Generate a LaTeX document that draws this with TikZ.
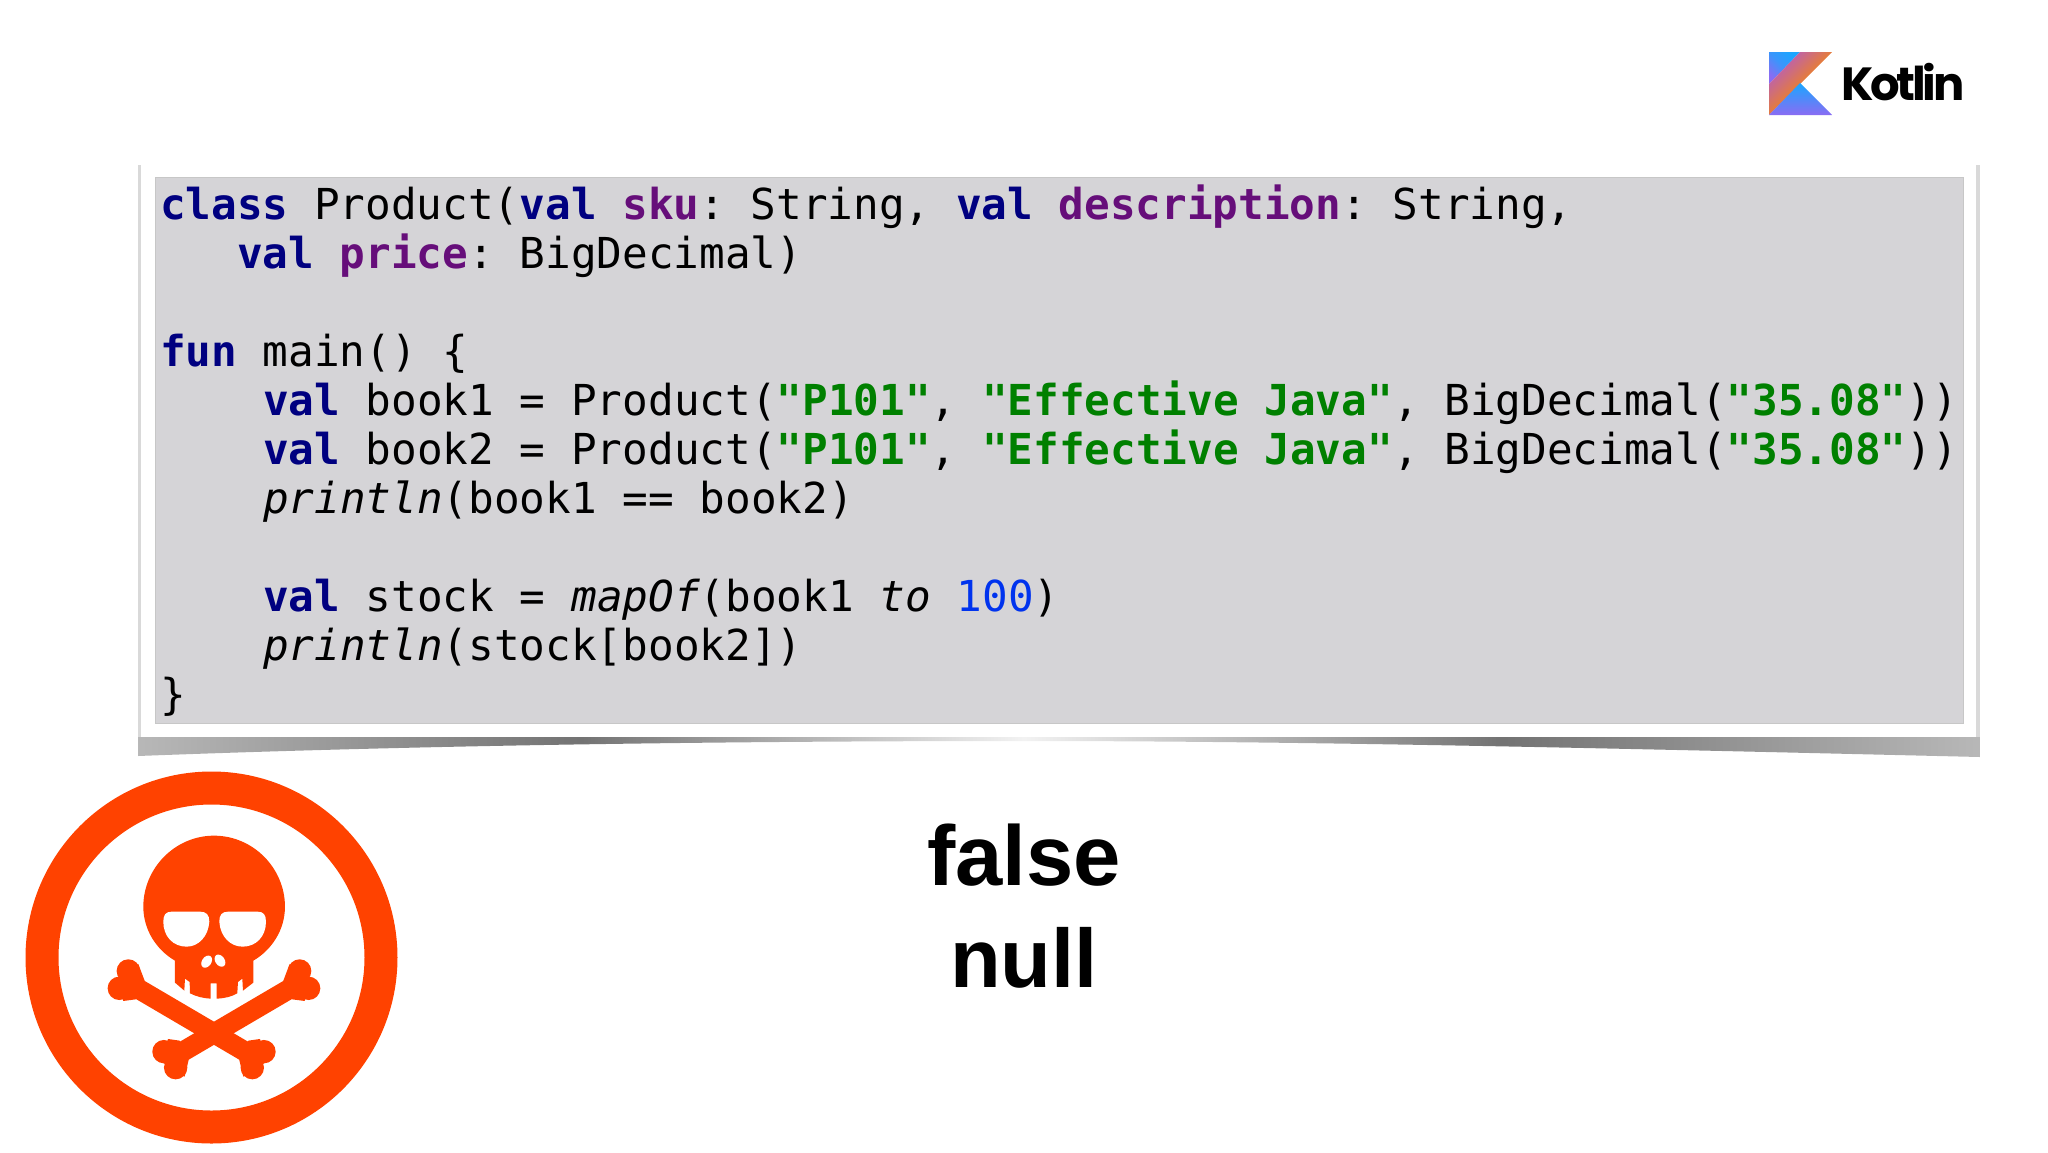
\documentclass[tikz,border=0pt]{standalone}
\usepackage{fontspec}
\setmainfont{Liberation Sans}
\setmonofont{DejaVu Sans Mono}
\newfontfamily\logofont{Poppins}[LetterSpace=-7.0]
\usetikzlibrary{positioning}
\definecolor{kwblue}{HTML}{000080}
\definecolor{fieldpurple}{HTML}{660E7A}
\definecolor{strgreen}{HTML}{008000}
\definecolor{numblue}{HTML}{0033EE}
\definecolor{panelgray}{HTML}{D5D4D7}
\definecolor{skullred}{HTML}{FF4200}
\definecolor{logoblue}{HTML}{1AA6FF}
\definecolor{logoviolet}{HTML}{8A6CF3}
\definecolor{logoorange}{HTML}{FA8A00}
\definecolor{logopink}{HTML}{B45CC4}
\newcommand{\kwd}[1]{\textcolor{kwblue}{\bfseries #1}}
\newcommand{\fld}[1]{\textcolor{fieldpurple}{\bfseries #1}}
\newcommand{\strg}[1]{\textcolor{strgreen}{\bfseries #1}}
\newcommand{\num}[1]{\textcolor{numblue}{#1}}
\tikzset{
		codeline/.style={anchor=base west,inner sep=0pt,font=\fontsize{42.65}{49}\ttfamily},
		answer/.style={anchor=base,inner sep=0pt,font=\fontsize{85}{90}\selectfont\bfseries},
		bone/.style={line width=20pt,draw=skullred}
	}

\begin{document}
\begin{tikzpicture}[x=1pt,y=-1pt]
				\useasboundingbox (0,0) rectangle (2048,1152);

				\fill[gray!30] (138,165) rectangle (1980,738);
				\shade[left color=black!28,right color=black!5,middle color=black!55]
					(138,737) -- (1024,737) -- (1024,741) .. controls (700,741) and (400,746) .. (138,756) -- cycle;
				\shade[left color=black!5,right color=black!28,middle color=black!55]
					(1024,737) -- (1980,737) -- (1980,757) .. controls (1600,748) and (1300,741) .. (1024,741) -- cycle;
				\fill[white] (141,163) rectangle (1976,737);
				\fill[panelgray,draw=black!22] (155,177) rectangle (1963,723);

				\node[codeline] (l1) at (160,219) {\kwd{class} Product(\kwd{val} \fld{sku}: String, \kwd{val} \fld{description}: String,};
				\node[codeline] (l2) at (237,268) {\kwd{val} \fld{price}: BigDecimal)};
				\node[codeline] (l3) at (160,366) {\kwd{fun} main() \{};
				\node[codeline] (l4) at (263,415) {\kwd{val} book1 = Product(\strg{"P101"}, \strg{"Effective Java"}, BigDecimal(\strg{"35.08"}))};
				\node[codeline] (l5) at (263,464) {\kwd{val} book2 = Product(\strg{"P101"}, \strg{"Effective Java"}, BigDecimal(\strg{"35.08"}))};
				\node[codeline] (l6) at (263,513) {\textit{println}(book1 == book2)};
				\node[codeline] (l7) at (263,611) {\kwd{val} stock = \textit{mapOf}(book1 \textit{to} \num{100})};
				\node[codeline] (l8) at (263,660) {\textit{println}(stock[book2])};
				\node[codeline] (l9) at (160,709) {\}};

				\node[answer] (false) at (1024,885) {false};
				\node[answer,font=\fontsize{83}{90}\selectfont\bfseries] (null) at (1024,987) {null};

				\shade[left color=logoblue,right color=logoviolet,middle color=logoblue!70!logoviolet,shading angle=-45]
					(1769,52) -- (1800,52) -- (1769,84) -- cycle;
				\shade[left color=logoorange,right color=logopink,middle color=logoorange!70!logopink,shading angle=225]
					(1800,52) -- (1832,52) -- (1769,115) -- (1769,84) -- cycle;
				\shade[left color=logoblue,right color=logoviolet,shading angle=0]
					(1769,115) -- (1800,83) -- (1832,115) -- cycle;
				\node[anchor=base west,inner sep=0pt,font=\fontsize{46.5}{50}\logofont\bfseries] (logo) at (1841,100) {Kotlin};

				\fill[skullred,even odd rule] (211.5,957.5) circle[radius=186] (211.5,957.5) circle[radius=153];
				\begin{scope}[shift={(0,740)},x=0.3333pt,y=-0.3333pt]
					\fill[skullred] (642,287) .. controls (525,287) and (430,385) .. (430,500)
						.. controls (430,570) and (470,630) .. (525,662) -- (525,728) -- (553,752) -- (555,716)
						-- (569,726) -- (570,760) .. controls (590,770) and (610,775) .. (632,776) -- (632,730) -- (650,730) -- (650,776)
						.. controls (675,775) and (695,770) .. (712,760) -- (714,726) -- (727,716) -- (729,752) -- (760,728) -- (760,662)
						.. controls (815,630) and (855,570) .. (855,500) .. controls (855,385) and (760,287) .. (642,287) -- cycle;
					\fill[white] (515,515) -- (600,515) .. controls (620,515) and (628,525) .. (628,545)
						.. controls (625,590) and (595,620) .. (560,620) .. controls (520,620) and (490,590) .. (490,545)
						.. controls (490,525) and (497,515) .. (515,515) -- cycle;
					\fill[white] (773,515) -- (685,515) .. controls (665,515) and (658,525) .. (658,545)
						.. controls (661,590) and (691,620) .. (728,620) .. controls (768,620) and (798,590) .. (798,545)
						.. controls (798,525) and (791,515) .. (773,515) -- cycle;
					\fill[white] (620,665) ellipse[x radius=14,y radius=20,rotate=-35];
					\fill[white] (660,662) ellipse[x radius=14,y radius=20,rotate=35];
					\draw[bone] (375,723) -- (770,955);
					\draw[bone] (909,723) -- (514,955);
					\fill[skullred] (435,725) -- (415,672) -- (345,720) -- (370,783) -- (408,778) -- cycle;
					\fill[skullred] (849,725) -- (869,672) -- (939,720) -- (914,783) -- (876,778) -- cycle;
					\fill[skullred] (745,902) -- (780,897) -- (800,965) -- (730,1010) -- (718,960) -- cycle;
					\fill[skullred] (539,902) -- (504,897) -- (484,965) -- (554,1010) -- (566,960) -- cycle;
					\foreach \bx/\by in {385/693,358/745,792/935,757/983,899/693,926/745,492/935,527/983}
						\fill[skullred] (\bx,\by) circle[radius=11.7pt];
				\end{scope}
			\end{tikzpicture}
\end{document}
